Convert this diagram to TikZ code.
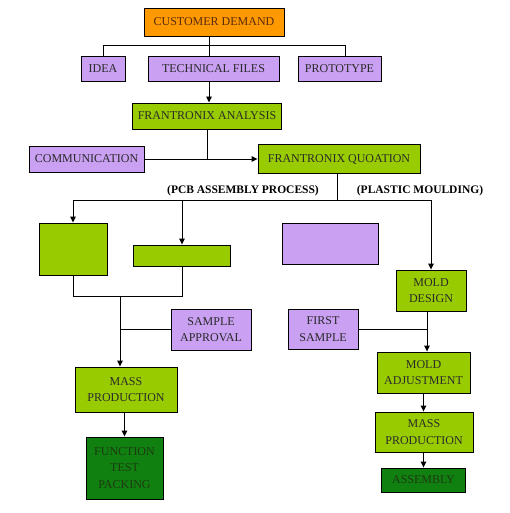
\documentclass[tikz,border=0pt]{standalone}
\usepackage{fontspec}
\setmainfont{Liberation Serif}
\usetikzlibrary{arrows.meta}
\definecolor{orangebox}{HTML}{FF9900}
\definecolor{purplebox}{HTML}{C9A0F2}
\definecolor{greenbox}{HTML}{99CC00}
\definecolor{darkbox}{HTML}{108010}
\definecolor{txtdark}{HTML}{2A2A2A}
\definecolor{txtbrown}{HTML}{5A2A10}
\definecolor{txtdg}{HTML}{1E3A12}
\tikzset{
  box/.style={draw=black, line width=0.9pt, inner sep=0pt, align=center,
    font=\fontsize{12}{16.5}\selectfont, text=txtdark},
  obox/.style={box, fill=orangebox, text=txtbrown},
  pbox/.style={box, fill=purplebox},
  gbox/.style={box, fill=greenbox},
  dbox/.style={box, fill=darkbox, text=txtdg},
  conn/.style={draw=black, line width=0.9pt},
  arr/.style={conn, -{Triangle[length=6pt,width=5.5pt]}},
  lbl/.style={font=\fontsize{11.5}{13}\selectfont\bfseries, text=black, inner sep=0pt}
}
\begin{document}
\begin{tikzpicture}[x=1pt,y=-1pt]
\path[use as bounding box, fill=white] (0,0) rectangle (509,513);
% top
\node[obox, minimum width=140, minimum height=28] (cd) at (214,22) {CUSTOMER DEMAND};
\node[pbox, minimum width=44, minimum height=25] (idea) at (103,68.5) {IDEA};
\node[pbox, minimum width=131, minimum height=25] (tf) at (213.5,68.5) {TECHNICAL FILES};
\node[pbox, minimum width=83, minimum height=25] (proto) at (339.5,68.5) {PROTOTYPE};
\node[gbox, minimum width=149, minimum height=26] (fa) at (207,116) {FRANTRONIX ANALYSIS};
\node[pbox, minimum width=115, minimum height=26] (comm) at (86.5,159) {COMMUNICATION};
\node[gbox, minimum width=162, minimum height=29] (fq) at (339,159) {FRANTRONIX QUOATION};
\node[lbl] (pcb) at (243,191) {(PCB ASSEMBLY PROCESS)};
\node[lbl] (pm) at (420,191) {(PLASTIC MOULDING)};
% middle row
\node[gbox, minimum width=68, minimum height=52] (boxa) at (73,249) {};
\node[gbox, minimum width=97, minimum height=21] (boxb) at (182,255.5) {};
\node[pbox, minimum width=96, minimum height=41] (boxc) at (330,243.5) {};
% left column
\node[pbox, minimum width=80, minimum height=41] (sa) at (211,329.5) {SAMPLE\\APPROVAL};
\node[gbox, minimum width=102, minimum height=45] (mp1) at (126,389.5) {MASS\\PRODUCTION};
\node[dbox, minimum width=77, minimum height=62] (ftp) at (124.5,468) {FUNCTION\\TEST\\PACKING};
% right column
\node[gbox, minimum width=70, minimum height=41] (md) at (431,290.5) {MOLD\\DESIGN};
\node[pbox, minimum width=70, minimum height=40] (fs) at (323,329) {FIRST\\SAMPLE};
\node[gbox, minimum width=93, minimum height=41] (ma) at (423.5,372.5) {MOLD\\ADJUSTMENT};
\node[gbox, minimum width=98, minimum height=40] (mp2) at (424,432) {MASS\\PRODUCTION};
\node[dbox, minimum width=84, minimum height=24] (asm) at (423.5,480) {ASSEMBLY};
% junctions
\coordinate (j1) at (209,45);
\coordinate (jp) at (345,45);
\coordinate (j2) at (207,159);
\coordinate (j3) at (337,200);
\coordinate (j4) at (120,296);
\coordinate (j5) at (427,329);
% connectors
\draw[conn] (cd.south -| j1) -- (tf.north -| j1);
\draw[conn] (idea.north) |- (jp) -- (proto.north -| jp);
\draw[arr] (tf.south -| j1) -- (fa.north -| j1);
\draw[conn] (fa.south -| j2) -- (j2);
\draw[arr] (comm.east) -- (fq.west);
\draw[conn] (fq.south -| j3) -- (j3);
\draw[arr] (j3) -| (boxa.north);
\draw[arr] (j3) -| (boxb.north);
\draw[arr] (j3) -| (md.north);
\draw[conn] (boxa.south) |- (boxb.south |- j4) -- (boxb.south);
\draw[arr] (j4) -- (mp1.north -| j4);
\draw[conn] (sa.west) -- (sa.west -| j4);
\draw[arr] (mp1.south -| ftp.north) -- (ftp.north);
\draw[arr] (md.south -| j5) -- (ma.north -| j5);
\draw[conn] (fs.east) -- (j5);
\draw[arr] (ma.south) -- (ma.south |- mp2.north);
\draw[arr] (mp2.south -| asm.north) -- (asm.north);
\end{tikzpicture}
\end{document}
